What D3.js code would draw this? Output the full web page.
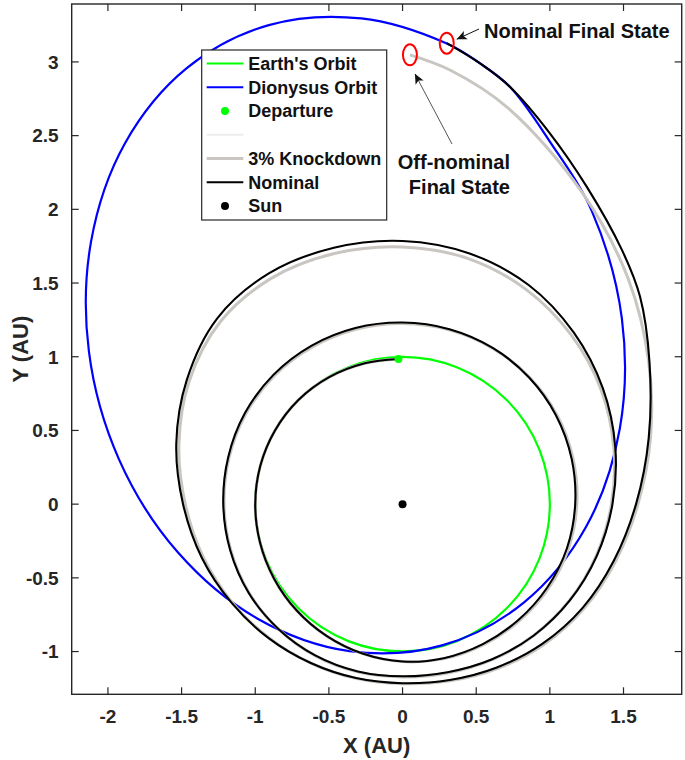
<!DOCTYPE html>
<html>
<head>
<meta charset="utf-8">
<script src="https://cdn.jsdelivr.net/npm/d3@7"></script>
<style>
	html, body {
		margin: 0;
		padding: 0;
		background: white;
	}
	text {
		font-family: "Liberation Sans", Arial, sans-serif;
		font-weight: bold;
	}
</style>
</head>
<body>
<div id="chart"></div>
<script>
var width = 685, height = 760;

// axes
var xTicks = [-2, -1.5, -1, -0.5, 0, 0.5, 1, 1.5];
var yTicks = [-1, -0.5, 0, 0.5, 1, 1.5, 2, 2.5, 3];
var xDomain = [-2.246, 1.895];
var yDomain = [-1.29, 3.393];

// bodies (AU)
var sun = [0, 0];
var earthRadius = 1;
var departure = [-0.028, 0.985];

// Dionysus orbit, counter-clockwise from aphelion
var dionysusOrbit = [
	[-0.908, 3.250], [-1.465, 2.958], [-1.885, 2.447], [-2.115, 1.779], [-2.129, 1.034],
	[-1.925, 0.304], [-1.527, -0.325], [-0.984, -0.777], [-0.360, -0.997], [0.268, -0.958],
	[0.825, -0.666], [1.245, -0.155], [1.475, 0.513], [1.489, 1.258], [1.285, 1.988],
	[1.000, 2.460], [0.730, 2.830], [0.526, 2.990], [0.300, 3.125], [-0.280, 3.295]
];

// nominal spiral, from departure to the nominal final state
var nominalPath = [
	[-0.028, 0.985], [-0.256, 0.956], [-0.498, 0.862], [-0.707, 0.707], [-0.866, 0.500],
	[-0.966, 0.259], [-1.000, 0.000], [-0.968, -0.259], [-0.873, -0.504], [-0.720, -0.720],
	[-0.516, -0.894], [-0.272, -1.014], [0.000, -1.068], [0.280, -1.045], [0.548, -0.948],
	[0.786, -0.786], [0.981, -0.567], [1.116, -0.299], [1.172, 0.000], [1.148, 0.307],
	[1.042, 0.602], [0.859, 0.859], [0.612, 1.060], [0.318, 1.187], [0.000, 1.232],
	[-0.320, 1.195], [-0.620, 1.074], [-0.877, 0.877], [-1.070, 0.618], [-1.184, 0.317],
	[-1.217, 0.000], [-1.170, -0.313], [-1.044, -0.603], [-0.845, -0.845], [-0.593, -1.026],
	[-0.304, -1.135], [0.000, -1.168], [0.305, -1.140], [0.608, -1.052], [0.891, -0.891],
	[1.134, -0.655], [1.318, -0.353], [1.425, 0.000], [1.444, 0.387], [1.360, 0.785],
	[1.163, 1.163], [0.858, 1.485], [0.455, 1.700], [0.000, 1.785],
	[-0.466, 1.739], [-0.905, 1.567], [-1.259, 1.259], [-1.464, 0.845], [-1.536, 0.412],
	[-1.490, 0.000], [-1.362, -0.365], [-1.160, -0.670], [-0.909, -0.909], [-0.623, -1.078],
	[-0.316, -1.180], [0.000, -1.215], [0.320, -1.193], [0.640, -1.108], [0.948, -0.948],
	[1.221, -0.705], [1.434, -0.384], [1.585, 0.000], [1.671, 0.448], [1.676, 0.968],
	[1.612, 1.408], [1.489, 1.725], [1.250, 2.154], [1.000, 2.516], [0.730, 2.830],
	[0.526, 2.990], [0.300, 3.127]
];

// 3% knockdown spiral, ends at the off-nominal final state
var knockdownPath = [
	[-0.028, 0.985], [-0.256, 0.956], [-0.498, 0.862], [-0.707, 0.707], [-0.866, 0.500],
	[-0.966, 0.259], [-1.000, 0.000], [-0.968, -0.259], [-0.873, -0.504], [-0.720, -0.720],
	[-0.516, -0.894], [-0.272, -1.014], [0.000, -1.068], [0.281, -1.048], [0.550, -0.953],
	[0.792, -0.792], [0.990, -0.572], [1.126, -0.302], [1.183, 0.000], [1.157, 0.310],
	[1.048, 0.605], [0.861, 0.861], [0.611, 1.058], [0.317, 1.182], [0.000, 1.225],
	[-0.318, 1.186], [-0.615, 1.065], [-0.871, 0.871], [-1.063, 0.614], [-1.178, 0.316],
	[-1.212, 0.000], [-1.166, -0.312], [-1.042, -0.602], [-0.845, -0.845], [-0.594, -1.028],
	[-0.305, -1.138], [0.000, -1.172], [0.307, -1.145], [0.609, -1.055], [0.891, -0.891],
	[1.133, -0.654], [1.314, -0.352], [1.418, 0.000], [1.434, 0.384], [1.347, 0.778],
	[1.146, 1.146], [0.840, 1.455], [0.446, 1.666], [0.000, 1.745],
	[-0.456, 1.702], [-0.886, 1.535], [-1.237, 1.237], [-1.448, 0.836], [-1.518, 0.407],
	[-1.475, 0.000], [-1.352, -0.362], [-1.156, -0.668], [-0.907, -0.907], [-0.623, -1.078],
	[-0.317, -1.182], [0.000, -1.218], [0.321, -1.198], [0.644, -1.115], [0.955, -0.955],
	[1.230, -0.710], [1.446, -0.387], [1.598, 0.000], [1.683, 0.451], [1.671, 0.965],
	[1.531, 1.531], [1.220, 2.113], [0.719, 2.685], [0.322, 2.945], [0.050, 3.048]
];

var legendLabels = ["Earth's Orbit", "Dionysus Orbit", "Departure", "", "3% Knockdown", "Nominal", "Sun"];
var legendKinds = ["line", "line", "dot", "line", "line", "line", "dot"];
var legendColors = ["#00ff00", "#0000ff", "#00ff00", "#ececec", "#c9c6c1", "#000000", "#000000"];

var pLeft = 71.7, pRight = 681.7, pTop = 4, pBottom = 694.3;

var x = d3.scaleLinear().domain(xDomain).range([pLeft, pRight]);
var y = d3.scaleLinear().domain(yDomain).range([pBottom, pTop]);

var svg = d3.select("#chart").append("svg")
	.attr("width", width)
	.attr("height", height)
	.style("background-color", "white");

var defs = svg.append("defs");
defs.append("clipPath").attr("id", "plot-clip")
	.append("rect")
	.attr("x", pLeft).attr("y", pTop)
	.attr("width", pRight - pLeft).attr("height", pBottom - pTop);

defs.append("marker")
	.attr("id", "head")
	.attr("viewBox", "0 0 10 10")
	.attr("refX", 10).attr("refY", 5)
	.attr("markerWidth", 10).attr("markerHeight", 10)
	.attr("markerUnits", "userSpaceOnUse")
	.attr("orient", "auto")
	.append("path")
	.attr("d", "M0,0.5 L10,5 L0,9.5 L2.5,5 Z")
	.attr("fill", "#111");

var plot = svg.append("g").attr("clip-path", "url(#plot-clip)");

var line = d3.line()
	.x(function(d) { return x(d[0]); })
	.y(function(d) { return y(d[1]); });

// Earth's orbit
plot.append("circle")
	.attr("cx", x(sun[0]))
	.attr("cy", y(sun[1]))
	.attr("r", x(earthRadius) - x(0))
	.attr("fill", "none")
	.attr("stroke", "#00ff00")
	.attr("stroke-width", 2.2);

// Dionysus orbit
plot.append("path")
	.datum(dionysusOrbit)
	.attr("d", line.curve(d3.curveCatmullRomClosed.alpha(0.5)))
	.attr("fill", "none")
	.attr("stroke", "#0000ff")
	.attr("stroke-width", 2.2);

line.curve(d3.curveCatmullRom.alpha(0.5));

// trajectories
plot.append("path")
	.datum(knockdownPath)
	.attr("d", line)
	.attr("fill", "none")
	.attr("stroke", "#c9c6c1")
	.attr("stroke-width", 3);

plot.append("path")
	.datum(nominalPath)
	.attr("d", line)
	.attr("fill", "none")
	.attr("stroke", "#000")
	.attr("stroke-width", 2.1);

plot.append("circle")
	.attr("cx", x(departure[0])).attr("cy", y(departure[1]))
	.attr("r", 4).attr("fill", "#00ff00");

plot.append("circle")
	.attr("cx", x(sun[0])).attr("cy", y(sun[1]))
	.attr("r", 4).attr("fill", "#000");

// final state markers
var nomEnd = nominalPath[nominalPath.length - 1];
var offEnd = knockdownPath[knockdownPath.length - 1];
[nomEnd, offEnd].forEach(function(p) {
	plot.append("ellipse")
		.attr("cx", x(p[0])).attr("cy", y(p[1]))
		.attr("rx", 7).attr("ry", 10.5)
		.attr("fill", "none")
		.attr("stroke", "#ff0000")
		.attr("stroke-width", 2);
});

// annotations
svg.append("line")
	.attr("x1", 479).attr("y1", 29)
	.attr("x2", x(nomEnd[0]) + 10).attr("y2", y(nomEnd[1]) - 4)
	.attr("stroke", "#111").attr("stroke-width", 1)
	.attr("marker-end", "url(#head)");

svg.append("text")
	.attr("x", 484).attr("y", 37.5)
	.attr("font-size", "20px")
	.attr("fill", "#111")
	.text("Nominal Final State");

svg.append("line")
	.attr("x1", 452).attr("y1", 144)
	.attr("x2", x(offEnd[0]) + 5).attr("y2", y(offEnd[1]) + 19)
	.attr("stroke", "#555").attr("stroke-width", 1)
	.attr("marker-end", "url(#head)");

svg.append("text")
	.attr("x", 510).attr("y", 168.5)
	.attr("text-anchor", "end")
	.attr("font-size", "20px")
	.attr("fill", "#111")
	.text("Off-nominal");

svg.append("text")
	.attr("x", 510).attr("y", 193.5)
	.attr("text-anchor", "end")
	.attr("font-size", "20px")
	.attr("fill", "#111")
	.text("Final State");

// axes box and ticks (inside, on all four sides)
var axisColor = "#262626";
var tl = 7;
var ax = svg.append("g");

ax.append("rect")
	.attr("x", pLeft).attr("y", pTop)
	.attr("width", pRight - pLeft).attr("height", pBottom - pTop)
	.attr("fill", "none")
	.attr("stroke", axisColor)
	.attr("stroke-width", 1.4);

xTicks.forEach(function(t) {
	ax.append("line").attr("x1", x(t)).attr("x2", x(t))
		.attr("y1", pBottom).attr("y2", pBottom - tl)
		.attr("stroke", axisColor).attr("stroke-width", 1.2);
	ax.append("line").attr("x1", x(t)).attr("x2", x(t))
		.attr("y1", pTop).attr("y2", pTop + tl)
		.attr("stroke", axisColor).attr("stroke-width", 1.2);
	ax.append("text")
		.attr("x", x(t)).attr("y", pBottom + 29)
		.attr("text-anchor", "middle")
		.attr("font-size", "19px")
		.attr("fill", axisColor)
		.text(t);
});

yTicks.forEach(function(t) {
	ax.append("line").attr("x1", pLeft).attr("x2", pLeft + tl)
		.attr("y1", y(t)).attr("y2", y(t))
		.attr("stroke", axisColor).attr("stroke-width", 1.2);
	ax.append("line").attr("x1", pRight).attr("x2", pRight - tl)
		.attr("y1", y(t)).attr("y2", y(t))
		.attr("stroke", axisColor).attr("stroke-width", 1.2);
	ax.append("text")
		.attr("x", pLeft - 13).attr("y", y(t))
		.attr("dy", "0.36em")
		.attr("text-anchor", "end")
		.attr("font-size", "19px")
		.attr("fill", axisColor)
		.text(t);
});

ax.append("text")
	.attr("x", (pLeft + pRight) / 2).attr("y", 753)
	.attr("text-anchor", "middle")
	.attr("font-size", "22px")
	.attr("fill", axisColor)
	.text("X (AU)");

ax.append("text")
	.attr("transform", "translate(28," + ((pTop + pBottom) / 2) + ") rotate(-90)")
	.attr("text-anchor", "middle")
	.attr("font-size", "22px")
	.attr("fill", axisColor)
	.text("Y (AU)");

// legend
var lg = svg.append("g");
lg.append("rect")
	.attr("x", 201.7).attr("y", 50)
	.attr("width", 185).attr("height", 170)
	.attr("fill", "white")
	.attr("stroke", axisColor)
	.attr("stroke-width", 1.2);

legendLabels.forEach(function(label, i) {
	var ry = 63.5 + i * 23.75;
	if (legendKinds[i] === "line") {
		lg.append("line")
			.attr("x1", 206.7).attr("x2", 243.3)
			.attr("y1", ry).attr("y2", ry)
			.attr("stroke", legendColors[i])
			.attr("stroke-width", i === 4 ? 3 : 2.2);
	} else {
		lg.append("circle")
			.attr("cx", 225).attr("cy", ry)
			.attr("r", 4)
			.attr("fill", legendColors[i]);
	}
	lg.append("text")
		.attr("x", 248.3).attr("y", ry)
		.attr("dy", "0.36em")
		.attr("font-size", "18px")
		.attr("fill", "#111")
		.text(label);
});
</script>
</body>
</html>
